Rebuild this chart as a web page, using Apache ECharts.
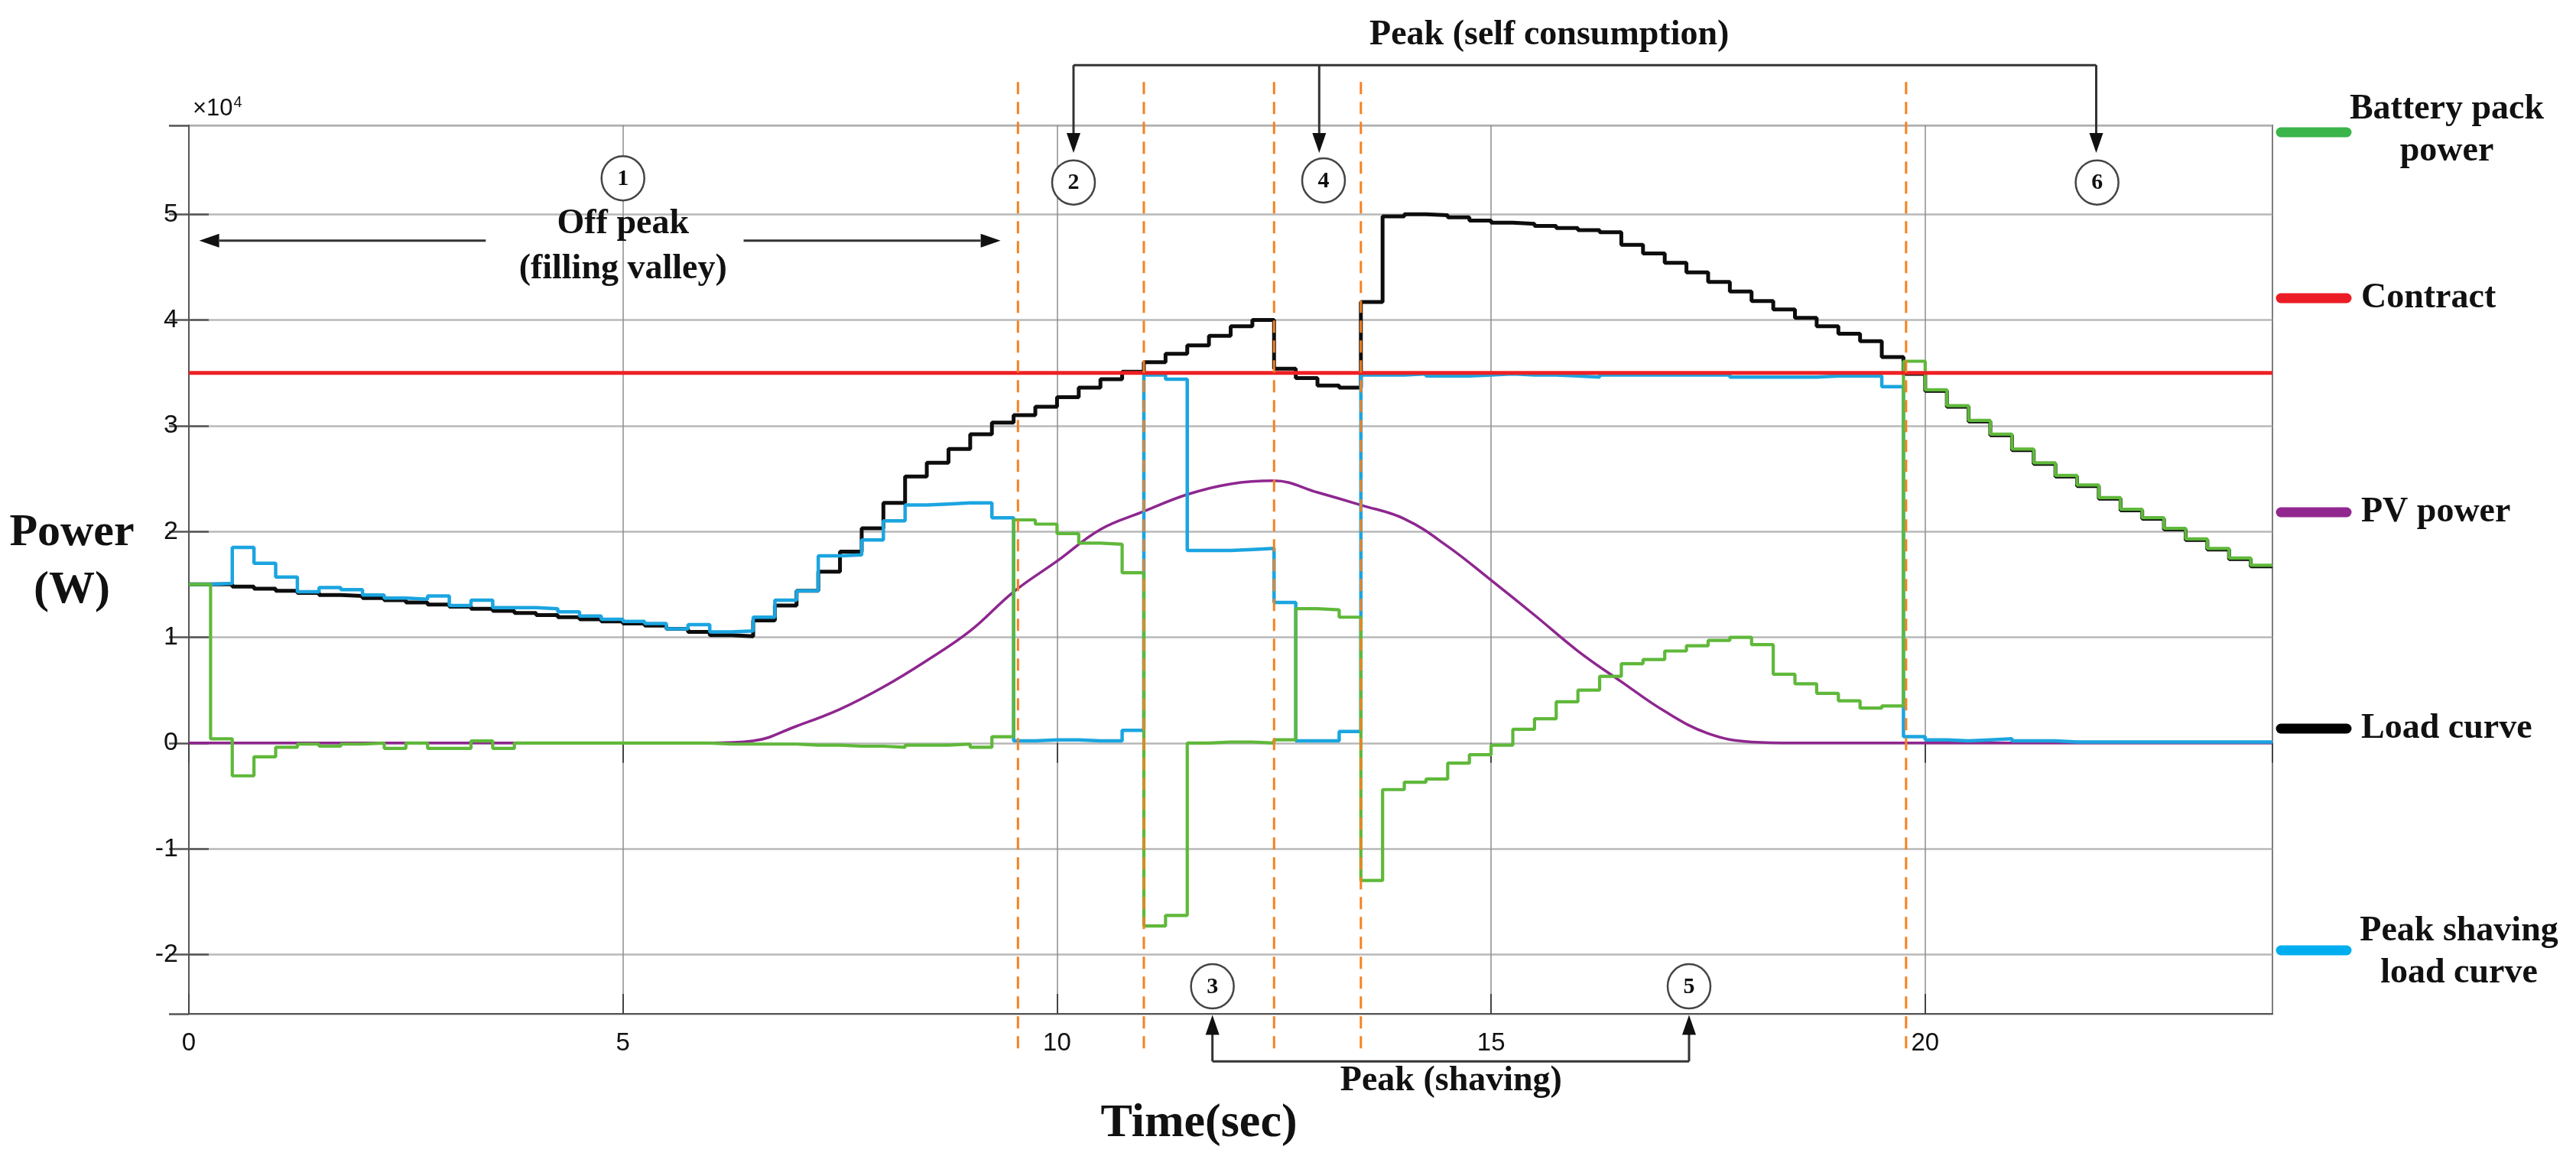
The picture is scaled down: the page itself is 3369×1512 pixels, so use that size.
<!DOCTYPE html>
<html>
<head>
<meta charset="utf-8">
<title>Peak shaving simulation</title>
<script src="https://cdn.jsdelivr.net/npm/echarts@6/dist/echarts.min.js"></script>
<style>
  html, body { margin: 0; padding: 0; background: #fff; }
  #chart { width: 3369px; height: 1512px; }
</style>
</head>
<body>
<div id="chart"></div>
<script>
// power values are in units of 1e4 W (the axis is labelled x10^4)
var STEP = 0.25;      // sample period of the step curves (s)
var PV_STEP = 0.5;    // sample period of the PV curve (s)

var loadCurve = [
  1.50, 1.50, 1.48, 1.46, 1.44, 1.42, 1.40, 1.39, 1.37, 1.35,
  1.33, 1.31, 1.29, 1.27, 1.25, 1.23, 1.21, 1.19, 1.17, 1.15,
  1.13, 1.11, 1.08, 1.05, 1.02, 1.01, 1.16, 1.30, 1.44, 1.62,
  1.81, 2.03, 2.27, 2.52, 2.65, 2.78, 2.92, 3.03, 3.10, 3.18,
  3.27, 3.36, 3.44, 3.51, 3.60, 3.68, 3.76, 3.85, 3.94, 4.00,
  3.54, 3.45, 3.38, 3.36, 4.17, 4.98, 5.00, 4.99, 4.97, 4.94,
  4.92, 4.91, 4.89, 4.87, 4.85, 4.83, 4.71, 4.63, 4.54, 4.45,
  4.36, 4.27, 4.18, 4.10, 4.02, 3.94, 3.87, 3.80, 3.65, 3.49,
  3.33, 3.18, 3.04, 2.91, 2.77, 2.64, 2.52, 2.43, 2.31, 2.20,
  2.12, 2.02, 1.92, 1.83, 1.74, 1.67
];

var shavingCurve = [
  1.50, 1.51, 1.85, 1.70, 1.57, 1.43, 1.47, 1.45, 1.40, 1.37,
  1.36, 1.39, 1.30, 1.35, 1.28, 1.28, 1.27, 1.24, 1.20, 1.17,
  1.15, 1.13, 1.08, 1.12, 1.05, 1.06, 1.19, 1.35, 1.44, 1.77,
  1.78, 1.92, 2.10, 2.25, 2.26, 2.27, 2.27, 2.13, 0.02, 0.03,
  0.03, 0.02, 0.02, 0.12, 3.48, 3.44, 1.82, 1.82, 1.83, 1.84,
  1.33, 0.02, 0.02, 0.11, 3.48, 3.48, 3.49, 3.47, 3.47, 3.48,
  3.49, 3.48, 3.48, 3.47, 3.46, 3.48, 3.48, 3.48, 3.48, 3.48,
  3.48, 3.46, 3.46, 3.46, 3.46, 3.47, 3.47, 3.47, 3.37, 0.06,
  0.03, 0.02, 0.03, 0.04, 0.02, 0.02, 0.01, 0.01, 0.01, 0.01,
  0.01, 0.01, 0.01, 0.01, 0.01, 0.01
];

var batteryPower = [
  1.50, 0.04, -0.31, -0.13, -0.04, -0.01, -0.03, -0.01, 0.00, -0.05,
  0.00, -0.05, -0.05, 0.02, -0.05, 0.00, 0.00, 0.00, 0.00, 0.00,
  0.00, 0.00, 0.00, 0.00, -0.01, -0.01, -0.01, -0.01, -0.02, -0.02,
  -0.03, -0.03, -0.04, -0.02, -0.02, -0.01, -0.04, 0.06, 2.11, 2.07,
  1.98, 1.89, 1.88, 1.61, -1.73, -1.63, 0.00, 0.01, 0.01, 0.00,
  0.03, 1.27, 1.26, 1.19, -1.30, -0.44, -0.37, -0.34, -0.19, -0.11,
  -0.02, 0.13, 0.23, 0.39, 0.50, 0.63, 0.75, 0.79, 0.87, 0.92,
  0.97, 1.00, 0.93, 0.65, 0.56, 0.47, 0.40, 0.33, 0.35, 3.61,
  3.34, 3.19, 3.05, 2.92, 2.78, 2.65, 2.53, 2.44, 2.32, 2.21,
  2.13, 2.03, 1.93, 1.84, 1.75, 1.68
];

var pvPower = [
  0, 0, 0, 0, 0, 0, 0, 0, 0, 0, 0, 0, 0,
  0.02, 0.16, 0.32, 0.53, 0.78, 1.06, 1.43, 1.72, 2.02, 2.19,
  2.35, 2.45, 2.48, 2.37, 2.25, 2.12, 1.86, 1.54, 1.21, 0.87,
  0.58, 0.30, 0.09, 0.01,
  0, 0, 0, 0, 0, 0, 0, 0, 0, 0, 0, 0
];

var contractLimit = 3.5;
var phaseBounds = [9.55, 11.0, 12.5, 13.5, 19.78];

var legendItems = [
  { lines: ['Battery pack', 'power'], color: '#3ab54a' },
  { lines: ['Contract'], color: '#ec1c24' },
  { lines: ['PV power'], color: '#92278f' },
  { lines: ['Load curve'], color: '#000000' },
  { lines: ['Peak shaving', 'load curve'], color: '#00aeef' }
];

function stepData(values) {
  var pts = values.map(function (v, i) { return [i * STEP, v]; });
  pts.push([values.length * STEP, values[values.length - 1]]);
  return pts;
}

var chart = echarts.init(document.getElementById('chart'), null, { width: 3369, height: 1512 });

var tickFont = '"Liberation Sans Narrow", "Liberation Sans", Arial, sans-serif';
var serif = '"Liberation Serif", "Times New Roman", serif';

var option = {
  backgroundColor: '#ffffff',
  animation: false,
  grid: {
    left: 247, right: 397, top: 164, bottom: 186,
    show: true, borderColor: '#555', borderWidth: 2
  },
  xAxis: [{
    type: 'value', min: 0, max: 24, interval: 5,
    axisLine: { show: true, onZero: false, lineStyle: { color: '#555', width: 2 } },
    axisTick: { show: true, inside: true, length: 26, lineStyle: { color: '#444', width: 2 } },
    axisLabel: {
      margin: 22, color: '#111', fontSize: 33, fontFamily: tickFont,
      showMaxLabel: false,
      formatter: function (v) { return v % 5 === 0 ? String(v) : ''; }
    },
    splitLine: { show: true, lineStyle: { color: '#8c8c8c', width: 1.5 } }
  }, {
    type: 'value', min: 0, max: 24, interval: 5, position: 'top',
    axisLine: { show: false },
    axisTick: { show: true, inside: true, length: 26, lineStyle: { color: '#444', width: 2 } },
    axisLabel: { show: false },
    splitLine: { show: false }
  }],
  yAxis: [{
    type: 'value', min: -2.56, max: 5.84, splitNumber: 8,
    axisLine: { show: true, onZero: false, lineStyle: { color: '#555', width: 2 } },
    axisTick: { show: true, inside: true, length: 26, lineStyle: { color: '#555', width: 2.5 } },
    axisLabel: {
      margin: 14, color: '#111', fontSize: 34, fontFamily: tickFont,
      showMinLabel: false, showMaxLabel: false,
      formatter: function (v) {
        var r = Math.round(v);
        return Math.abs(v - r) < 1e-6 ? String(r) : '';
      }
    },
    splitLine: { show: true, lineStyle: { color: '#b8b8b8', width: 2.5 } }
  }, {
    type: 'value', min: -2.56, max: 5.84, splitNumber: 8, position: 'right',
    axisLine: { show: false },
    axisTick: { show: true, inside: true, length: 26, lineStyle: { color: '#555', width: 2.5 } },
    axisLabel: { show: false },
    splitLine: { show: false }
  }],
  series: [{
    name: 'PV power', type: 'line', z: 2,
    data: pvPower.map(function (v, i) { return [i * PV_STEP, v]; }),
    smooth: 0.4, showSymbol: false, silent: true,
    lineStyle: { color: '#8e278f', width: 3.5 }
  }, {
    name: 'Load curve', type: 'line', z: 3, step: 'end',
    data: stepData(loadCurve), showSymbol: false, silent: true,
    lineStyle: { color: '#0d0d0d', width: 5 }
  }, {
    name: 'Peak shaving load curve', type: 'line', z: 4, step: 'end',
    data: stepData(shavingCurve), showSymbol: false, silent: true,
    lineStyle: { color: '#1ba5e0', width: 4.5 }
  }, {
    name: 'Battery pack power', type: 'line', z: 5, step: 'end',
    data: stepData(batteryPower), showSymbol: false, silent: true,
    lineStyle: { color: '#5fb83a', width: 4.2 }
  }, {
    name: 'Contract', type: 'line', z: 6,
    data: [[0, contractLimit], [24, contractLimit]], showSymbol: false, silent: true,
    lineStyle: { color: '#ee2024', width: 5 }
  }]
};

chart.setOption(option);

// ---- annotations, placed through the chart's own scales ----
function px(x, y) {
  return chart.convertToPixel({ xAxisIndex: 0, yAxisIndex: 0 }, [x, y]);
}

var g = [];
var ink = '#333';

function line(a, b, style) {
  g.push({
    type: 'line', z: 100, silent: true,
    shape: { x1: a[0], y1: a[1], x2: b[0], y2: b[1] },
    style: Object.assign({ stroke: ink, lineWidth: 3 }, style || {})
  });
}
function head(tip, dir) {
  var L = 26, W = 9, p;
  if (dir === 'down') p = [[tip[0], tip[1]], [tip[0] - W, tip[1] - L], [tip[0] + W, tip[1] - L]];
  if (dir === 'up') p = [[tip[0], tip[1]], [tip[0] - W, tip[1] + L], [tip[0] + W, tip[1] + L]];
  if (dir === 'left') p = [[tip[0], tip[1]], [tip[0] + L, tip[1] - W], [tip[0] + L, tip[1] + W]];
  if (dir === 'right') p = [[tip[0], tip[1]], [tip[0] - L, tip[1] - W], [tip[0] - L, tip[1] + W]];
  g.push({ type: 'polygon', z: 101, silent: true, shape: { points: p }, style: { fill: '#111' } });
}
function text(p, str, font, align) {
  g.push({
    type: 'text', z: 102, silent: true,
    style: { x: p[0], y: p[1], text: str, font: font, fill: '#111',
      align: align || 'center', verticalAlign: 'middle' }
  });
}
function badge(p, num) {
  g.push({
    type: 'ellipse', z: 102, silent: true,
    shape: { cx: p[0], cy: p[1], rx: 28, ry: 29 },
    style: { fill: '#fff', stroke: '#444', lineWidth: 2.5 }
  });
  text([p[0], p[1] + 1], String(num), 'bold 30px ' + serif);
}

// phase boundaries
phaseBounds.forEach(function (t) {
  var a = px(t, 6.25), b = px(t, -2.89);
  g.push({
    type: 'line', z: 90, silent: true,
    shape: { x1: a[0], y1: a[1], x2: b[0], y2: b[1] },
    style: { stroke: '#f58220', lineWidth: 3, lineDash: [16, 10] }
  });
});

var annFont = 'bold 46px ' + serif;

// 1: off peak
badge(px(5.0, 5.34), 1);
text(px(5.0, 4.91), 'Off peak', annFont);
text(px(5.0, 4.48), '(filling valley)', annFont);
line(px(3.42, 4.75), px(0.35, 4.75));
head(px(0.12, 4.75), 'left');
line(px(6.39, 4.75), px(9.12, 4.75));
head(px(9.35, 4.75), 'right');

// 2, 4, 6: peak (self consumption)
text(px(15.67, 6.69), 'Peak (self consumption)', annFont);
line(px(10.19, 6.41), px(21.97, 6.41));
[10.19, 13.02, 21.97].forEach(function (t) {
  line(px(t, 6.41), px(t, 5.75));
  head(px(t, 5.58), 'down');
});
badge(px(10.19, 5.30), 2);
badge(px(13.07, 5.32), 4);
badge(px(21.98, 5.30), 6);

// 3, 5: peak (shaving)
badge(px(11.79, -2.30), 3);
badge(px(17.28, -2.30), 5);
line(px(11.79, -3.01), px(17.28, -3.01));
[11.79, 17.28].forEach(function (t) {
  line(px(t, -3.01), px(t, -2.75));
  head(px(t, -2.57), 'up');
});
text(px(14.54, -3.20), 'Peak (shaving)', annFont);

// axis titles and exponent
text([94, 697], 'Power', 'bold 60px ' + serif);
text([94, 772], '(W)', 'bold 60px ' + serif);
text([1568, 1470], 'Time(sec)', 'bold 62px ' + serif);
g.push({
  type: 'text', z: 102, silent: true,
  style: {
    x: 252, y: 142, text: '{a|\u00d710}{b|4}', fill: '#111',
    align: 'left', verticalAlign: 'middle',
    rich: {
      a: { fontSize: 31, fontFamily: tickFont, fill: '#111' },
      b: { fontSize: 20, fontFamily: tickFont, fill: '#111', padding: [0, 0, 16, 1] }
    }
  }
});

// legend
var legendY = [173, 390, 670, 953, 1243];
legendItems.forEach(function (item, i) {
  var y = legendY[i];
  g.push({
    type: 'line', z: 100, silent: true,
    shape: { x1: 2983, y1: y, x2: 3069, y2: y },
    style: { stroke: item.color, lineWidth: 13, lineCap: 'round' }
  });
  if (item.lines.length === 1) {
    text([3088, y], item.lines[0], annFont, 'left');
  } else {
    var cx = i === 0 ? 3200 : 3216;
    var top = i === 0 ? 143 : 1218;
    text([cx, top], item.lines[0], annFont);
    text([cx, top + 55], item.lines[1], annFont);
  }
});

chart.setOption({ graphic: { elements: g } });
</script>
</body>
</html>
